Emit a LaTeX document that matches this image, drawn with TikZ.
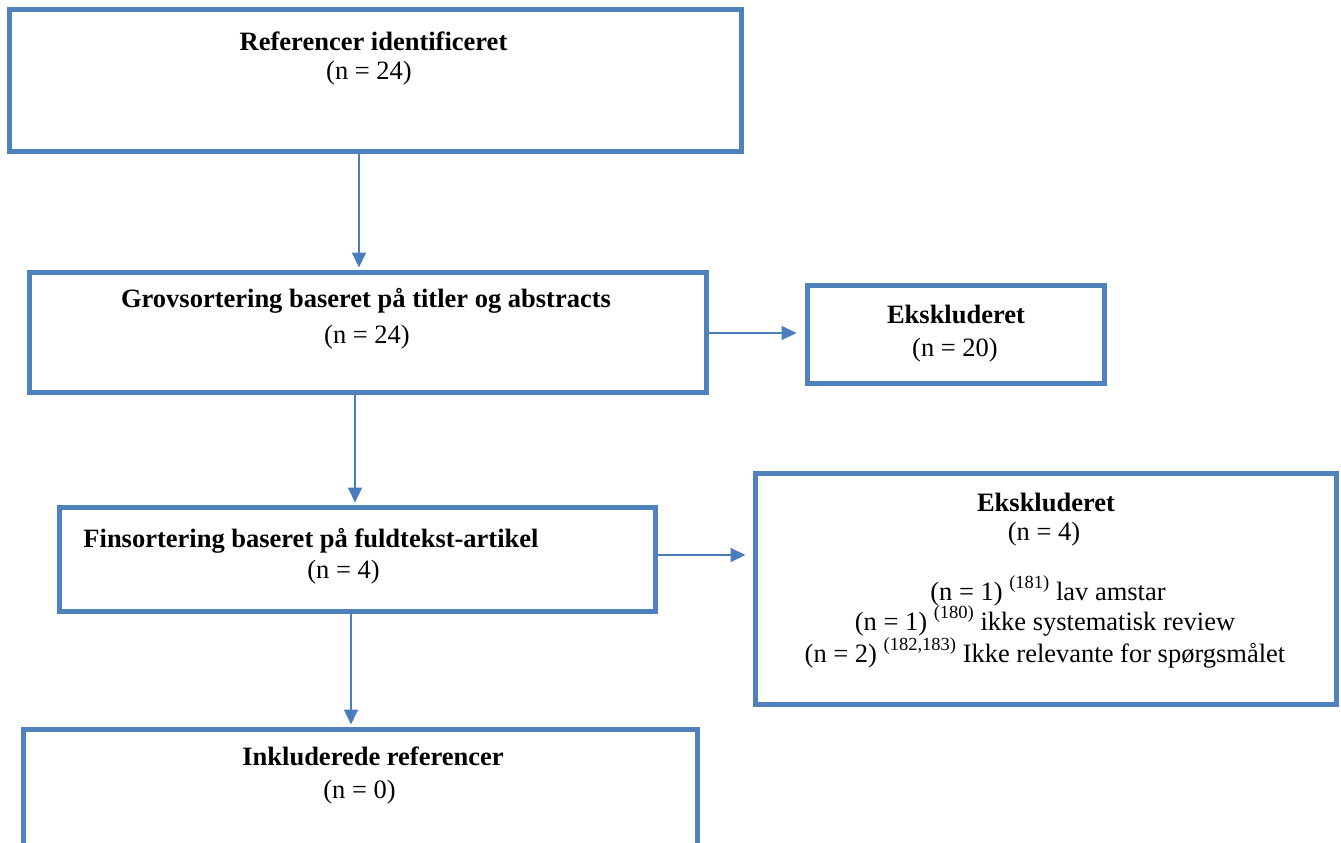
\documentclass[tikz,border=0pt]{standalone}
\usepackage{fontspec}
\setmainfont{Liberation Serif}
\usetikzlibrary{arrows.meta}
\definecolor{boxblue}{HTML}{4F81BD}
\definecolor{arrblue}{HTML}{4A7EBB}
\newcommand{\sref}[1]{\raisebox{12pt}{\fontsize{18.5}{18.5}\selectfont(#1)}}
\begin{document}
\begin{tikzpicture}[x=1pt,y=-1pt,
  box/.style={draw=boxblue,line width=5pt,rectangle,inner sep=0pt},
  txt/.style={anchor=base,inner sep=0pt,font=\fontsize{26.5}{31}\selectfont},
  ttl/.style={txt,font=\fontsize{26.5}{31}\selectfont\bfseries},
  arr/.style={draw=arrblue,line width=2pt,-{Triangle[length=15pt,width=14pt]}}]
\useasboundingbox (0,0) rectangle (1341,843);
\clip (0,0) rectangle (1341,843);
% boxes
\node[box,minimum width=732pt,minimum height=141pt] (b1) at (375,80.5) {};
\node[box,minimum width=677pt,minimum height=120pt] (b2) at (367.5,332) {};
\node[box,minimum width=297pt,minimum height=98pt] (b3) at (955.5,334) {};
\node[box,minimum width=596pt,minimum height=104pt] (b4) at (357,559) {};
\node[box,minimum width=581pt,minimum height=231pt] (b5) at (1045.5,588.5) {};
\node[box,minimum width=674pt,minimum height=160pt] (b6) at (360,809) {};
% texts
\node[ttl] (t1a) at (373.5,50.5) {Referencer identificeret};
\node[txt] (t1b) at (369,80) {(n = 24)};
\node[ttl] (t2a) at (366,307) {Grovsortering baseret på titler og abstracts};
\node[txt] (t2b) at (367,343) {(n = 24)};
\node[ttl] (t3a) at (956,323) {Ekskluderet};
\node[txt] (t3b) at (955,356) {(n = 20)};
\node[ttl] (t4a) at (311,547) {Finsortering baseret på fuldtekst-artikel};
\node[txt] (t4b) at (343.5,578) {(n = 4)};
\node[ttl] (t5a) at (1046,511) {Ekskluderet};
\node[txt] (t5b) at (1044,540) {(n = 4)};
\node[txt] (t5c) at (1048,600) {(n = 1) \sref{181} lav amstar};
\node[txt] (t5d) at (1045,630) {(n = 1) \sref{180} ikke systematisk review};
\node[txt] (t5e) at (1045,662) {(n = 2) \sref{182,183} Ikke relevante for spørgsmålet};
\node[ttl] (t6a) at (373,765) {Inkluderede referencer};
\node[txt] (t6b) at (359.5,798) {(n = 0)};
% connectors
\coordinate (x1) at (359,0);
\coordinate (x2) at (355,0);
\coordinate (x3) at (351,0);
\coordinate (y4) at (0,333);
\coordinate (y5) at (0,555);
\draw[arr,shorten >=2pt] (b1.south -| x1) -- (b2.north -| x1);
\draw[arr,shorten >=2pt] (b2.south -| x2) -- (b4.north -| x2);
\draw[arr,shorten >=2pt] (b4.south -| x3) -- (b6.north -| x3);
\draw[arr,shorten >=8pt] (b2.east |- y4) -- (b3.west |- y4);
\draw[arr,shorten >=7pt] (b4.east |- y5) -- (b5.west |- y5);
\end{tikzpicture}
\end{document}
